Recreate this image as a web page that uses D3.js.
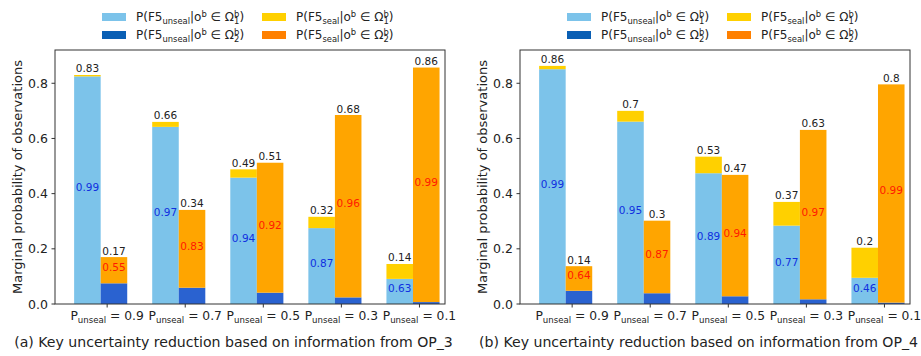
<!DOCTYPE html>
<html>
<head>
<meta charset="utf-8">
<script src="https://cdn.jsdelivr.net/npm/d3@7"></script>
<style>
  body { margin: 0; background: #fff; }
  svg { font-family: "DejaVu Sans", sans-serif; }
</style>
</head>
<body>
<svg id="chart" width="921" height="356"></svg>
<script>
// Group labels (P_unseal values)
const groupLabels = ['0.9', '0.7', '0.5', '0.3', '0.1'];
const yTicks = [0.0, 0.2, 0.4, 0.6, 0.8];

// Panel (a): OP_3
const aUnsealO1 = [0.825, 0.642, 0.458, 0.275, 0.091];
const aSealO1 = [0.005, 0.018, 0.030, 0.041, 0.054];
const aUnsealO2 = [0.075, 0.059, 0.041, 0.024, 0.007];
const aSealO2 = [0.095, 0.282, 0.471, 0.661, 0.850];
const aTotal1 = ['0.83', '0.66', '0.49', '0.32', '0.14'];
const aTotal2 = ['0.17', '0.34', '0.51', '0.68', '0.86'];
const aFracUnseal = ['0.99', '0.97', '0.94', '0.87', '0.63'];
const aFracSeal = ['0.55', '0.83', '0.92', '0.96', '0.99'];

// Panel (b): OP_4
const bUnsealO1 = [0.851, 0.661, 0.474, 0.284, 0.095];
const bSealO1 = [0.012, 0.039, 0.060, 0.086, 0.109];
const bUnsealO2 = [0.048, 0.039, 0.028, 0.017, 0.005];
const bSealO2 = [0.089, 0.263, 0.440, 0.614, 0.791];
const bTotal1 = ['0.86', '0.7', '0.53', '0.37', '0.2'];
const bTotal2 = ['0.14', '0.3', '0.47', '0.63', '0.8'];
const bFracUnseal = ['0.99', '0.95', '0.89', '0.77', '0.46'];
const bFracSeal = ['0.64', '0.87', '0.94', '0.97', '0.99'];

const colors = {
    lightBlue: '#7cc3ea',
    darkBlue: '#2a62d0',
    yellow: '#ffd000',
    orange: '#ffa500',
    legendDarkBlue: '#0a5fb4',
    legendOrange: '#ff8000'
};

const svg = d3.select('#chart');
const plotW = 390, plotH = 254;
const barW = 0.34;

function drawPanel(offsetX, d, caption) {
    const root = svg.append('g').attr('transform', `translate(${offsetX},0)`);
    const g = root.append('g').attr('transform', 'translate(55,50)');

    const x = d3.scaleLinear().domain([-0.585, 4.41]).range([0, plotW]);
    const y = d3.scaleLinear().domain([0, 0.9206]).range([plotH, 0]);

    const idx = d3.range(groupLabels.length);

    // stacked bars: left = Omega1, right = Omega2
    const segs = [];
    idx.forEach(i => {
        segs.push({ x0: i - barW, y0: 0, y1: d.unsealO1[i], c: colors.lightBlue });
        segs.push({ x0: i - barW, y0: d.unsealO1[i], y1: d.unsealO1[i] + d.sealO1[i], c: colors.yellow });
        segs.push({ x0: i, y0: 0, y1: d.unsealO2[i], c: colors.darkBlue });
        segs.push({ x0: i, y0: d.unsealO2[i], y1: d.unsealO2[i] + d.sealO2[i], c: colors.orange });
    });
    g.selectAll('rect.seg')
        .data(segs)
        .enter().append('rect')
        .attr('class', 'seg')
        .attr('x', s => x(s.x0))
        .attr('width', x(barW) - x(0))
        .attr('y', s => y(s.y1))
        .attr('height', s => y(s.y0) - y(s.y1))
        .attr('fill', s => s.c);

    // total labels on top
    idx.forEach(i => {
        const t1 = d.unsealO1[i] + d.sealO1[i];
        const t2 = d.unsealO2[i] + d.sealO2[i];
        g.append('text')
            .attr('x', x(i - barW / 2)).attr('y', y(t1) - 2.5)
            .attr('text-anchor', 'middle').attr('font-size', 10.5).attr('fill', '#222')
            .text(d.total1[i]);
        g.append('text')
            .attr('x', x(i + barW / 2)).attr('y', y(t2) - 2.5)
            .attr('text-anchor', 'middle').attr('font-size', 10.5).attr('fill', '#222')
            .text(d.total2[i]);
        // fraction labels inside
        g.append('text')
            .attr('x', x(i - barW / 2)).attr('y', y(d.unsealO1[i] / 2) + 1)
            .attr('text-anchor', 'middle').attr('font-size', 10.5).attr('fill', '#1030e0')
            .text(d.fracUnseal[i]);
        g.append('text')
            .attr('x', x(i + barW / 2)).attr('y', y(d.unsealO2[i] + d.sealO2[i] / 2) + 1)
            .attr('text-anchor', 'middle').attr('font-size', 10.5).attr('fill', '#ff1a00')
            .text(d.fracSeal[i]);
    });

    // frame
    g.append('rect')
        .attr('width', plotW).attr('height', plotH)
        .attr('fill', 'none').attr('stroke', '#333').attr('stroke-width', 1);

    // y axis
    yTicks.forEach(t => {
        g.append('line')
            .attr('x1', -3.5).attr('x2', 0)
            .attr('y1', y(t)).attr('y2', y(t))
            .attr('stroke', '#333');
        g.append('text')
            .attr('x', -7).attr('y', y(t) + 4.5)
            .attr('text-anchor', 'end').attr('font-size', 12.5).attr('fill', '#222')
            .text(t.toFixed(1));
    });

    // x ticks
    idx.forEach(i => {
        const tx = x(i + 0.083);
        g.append('line')
            .attr('x1', tx).attr('x2', tx)
            .attr('y1', plotH).attr('y2', plotH + 3.5)
            .attr('stroke', '#333');
        const lbl = g.append('text')
            .attr('x', tx).attr('y', plotH + 16)
            .attr('text-anchor', 'middle').attr('font-size', 12.3).attr('fill', '#222');
        lbl.append('tspan').text('P');
        lbl.append('tspan').attr('dy', 3).attr('font-size', 8.6).text('unseal');
        lbl.append('tspan').attr('dy', -3).text(' = ' + groupLabels[i]);
    });

    // y label
    root.append('text')
        .attr('transform', `translate(22,${50 + plotH / 2}) rotate(-90)`)
        .attr('text-anchor', 'middle').attr('font-size', 13).attr('fill', '#222')
        .text('Marginal probability of observations');

    // caption
    root.append('text')
        .attr('x', 233.5).attr('y', 346.5)
        .attr('text-anchor', 'middle').attr('font-size', 14.1).attr('fill', '#222')
        .text(caption);

    // legend
    const legendItems = [
        { c: colors.lightBlue, s: 'unseal', k: '1', col: 0, row: 0 },
        { c: colors.legendDarkBlue, s: 'unseal', k: '2', col: 0, row: 1 },
        { c: colors.yellow, s: 'seal', k: '1', col: 1, row: 0 },
        { c: colors.legendOrange, s: 'seal', k: '2', col: 1, row: 1 }
    ];
    legendItems.forEach(it => {
        const px = it.col === 0 ? 102 : 262;
        const py = it.row === 0 ? 17 : 35;
        root.append('rect')
            .attr('x', px).attr('y', py - 4).attr('width', 24).attr('height', 8)
            .attr('fill', it.c);
        const t = root.append('text')
            .attr('x', px + 34).attr('y', py + 4)
            .attr('font-size', 12).attr('fill', '#222');
        t.append('tspan').text('P(F5');
        t.append('tspan').attr('dy', 2.5).attr('font-size', 8.4).text(it.s);
        t.append('tspan').attr('dy', -2.5).text('|o');
        t.append('tspan').attr('dy', -4.5).attr('font-size', 8.4).text('b');
        t.append('tspan').attr('dy', 4.5).text(' \u2208 \u03a9');
        t.append('tspan').attr('dy', -4.5).attr('font-size', 8.4).text('b');
        t.append('tspan').attr('dx', -5.3).attr('dy', 7).attr('font-size', 8.4).text(it.k);
        t.append('tspan').attr('dy', -2.5).text(')');
    });
}

drawPanel(0, {
    unsealO1: aUnsealO1, sealO1: aSealO1, unsealO2: aUnsealO2, sealO2: aSealO2,
    total1: aTotal1, total2: aTotal2, fracUnseal: aFracUnseal, fracSeal: aFracSeal
}, '(a) Key uncertainty reduction based on information from OP_3');

drawPanel(465, {
    unsealO1: bUnsealO1, sealO1: bSealO1, unsealO2: bUnsealO2, sealO2: bSealO2,
    total1: bTotal1, total2: bTotal2, fracUnseal: bFracUnseal, fracSeal: bFracSeal
}, '(b) Key uncertainty reduction based on information from OP_4');
</script>
</body>
</html>
